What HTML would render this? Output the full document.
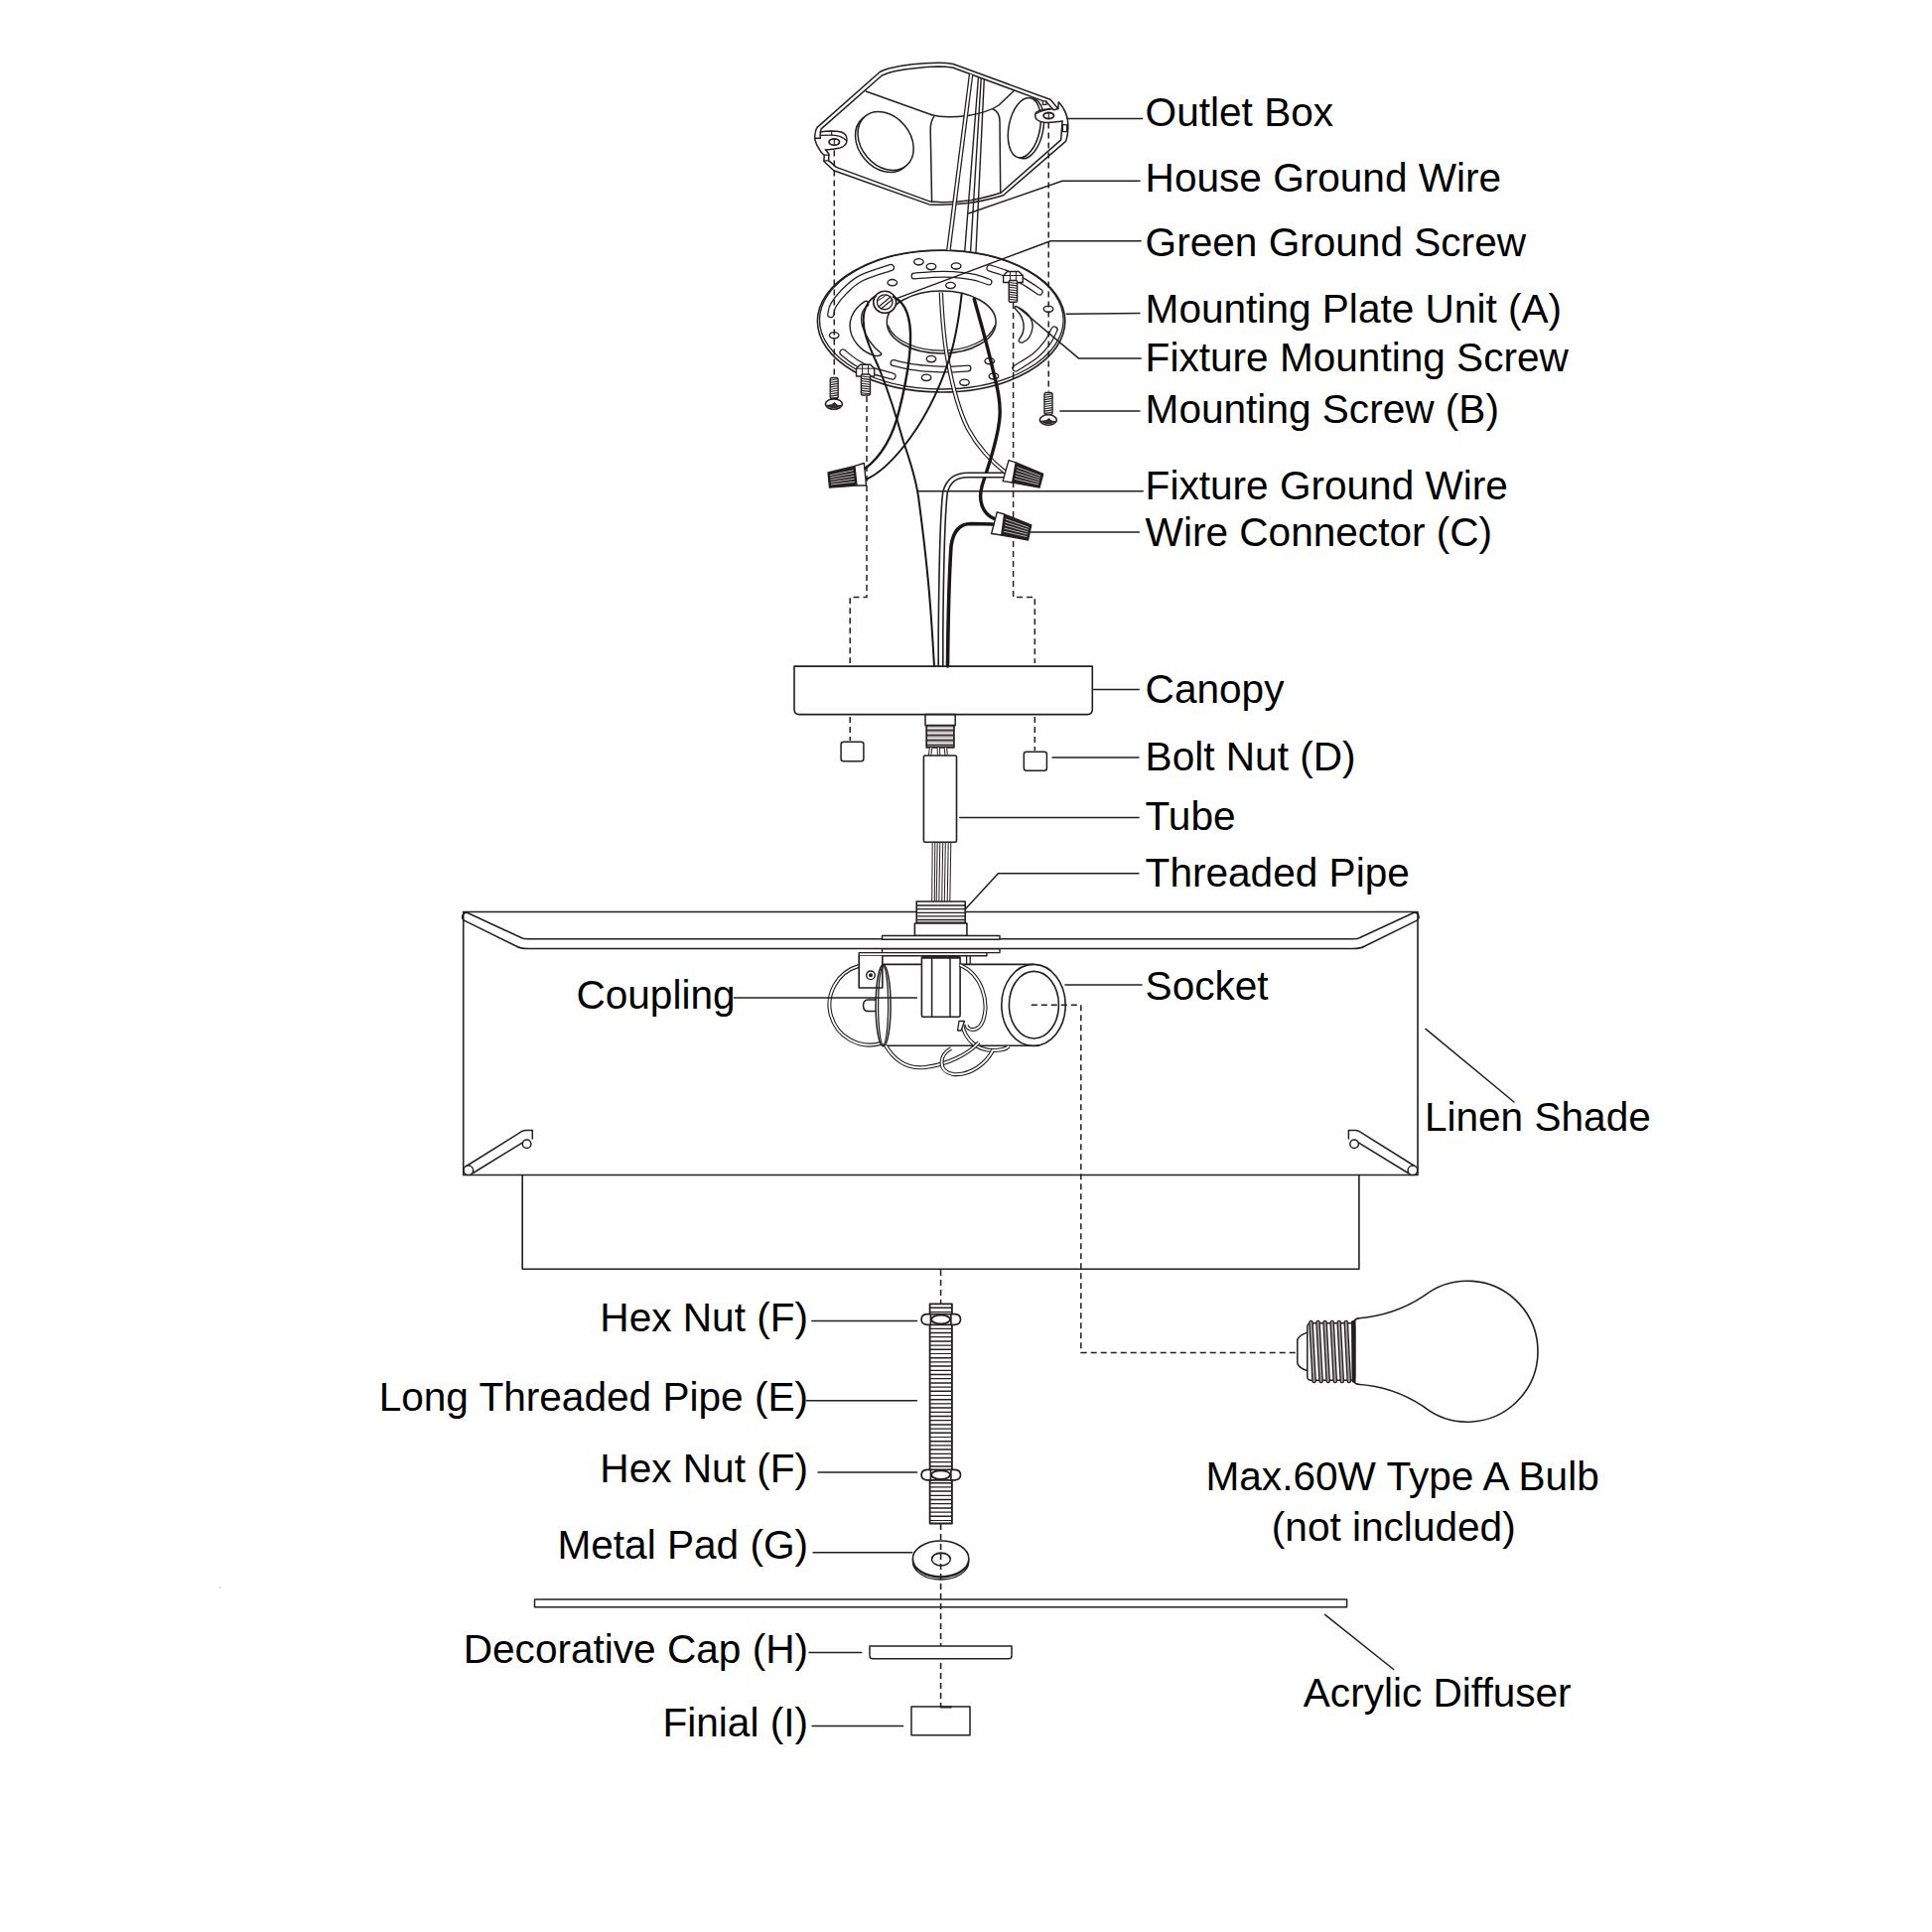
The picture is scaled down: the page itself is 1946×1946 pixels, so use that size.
<!DOCTYPE html>
<html><head><meta charset="utf-8"><style>
html,body{margin:0;padding:0;background:#fff;overflow:hidden;}
svg{display:block;}
text{font-family:"Liberation Sans",sans-serif;font-size:40.6px;fill:#000;}
</style></head><body>
<svg width="1946" height="1946" viewBox="0 0 1946 1946">
<g fill="none" stroke="#231f20" stroke-linecap="round" stroke-linejoin="round">
<g id="shade">
<path d="M466.7,1183.5 L466.7,918.5 L923.0,918.5" stroke-width="1.6" />
<path d="M972.0,918.5 L1428.0,918.5 L1428.0,1183.5 L466.7,1183.5" stroke-width="1.6" />
<path d="M531.9,945.8 L1362.8,945.8 Q1367.7,945.8 1370.2,944.3 L1424.2,919.3 A4.3,4.3 0 0 1 1426.7,927.4 L1374.7,953 Q1370.7,955.5 1362.8,955.5 L531.9,955.5 Q524,955.5 520,953 L468,927.4 A4.3,4.3 0 0 1 470.5,919.3 L524.5,944.3 Q527,945.8 531.9,945.8 Z" stroke-width="1.5" />
<path d="M526.2,1183.5 L526.2,1278.3 L1368.9,1278.3 L1368.9,1183.5" stroke-width="1.6" />
</g>
<g id="outletbox">
<path d="M820.6,139.2 C821,142 822,144 822.8,146.1 L827.4,153.8 L830.2,156.3 L829.9,162.5 L839.8,171.8 L935.8,205.9 C940,206.3 945,206.3 949.7,206.2 C960,206 968,205.5 977.7,204.2 C990,202.5 1000,200 1010.5,196.8 L1073.7,142.1 C1075.5,137 1076,131 1075.8,125 C1075.5,118 1073,112 1070.4,108 C1069,106 1067.5,104 1066.3,102.8 L1065.8,109.4 L1058,100.3 L960.2,64.5 C955,63.5 950,63.3 945,63.3 C930,63.5 910,65.5 895,69 C891,70 888,71.5 886.2,72.5 L823.1,128.4 C821.2,131 820.9,134 820.6,139.2 Z" fill="#fff" stroke-width="1.5"/>
<path d="M826.3,139 C826,136 826,133 827.1,129.9 L888.3,76 C892,74.5 896,73 900,72 C915,69 930,67.5 945,67 C950,67 955,67.3 959.5,68 L1050.5,101.6" stroke-width="1.5" />
<path d="M1053.8,102.4 L1061.3,110.7 L1065.8,109.6" stroke-width="1.5" />
<rect x="1050.4" y="101.8" width="3.6" height="3.6" rx="0" stroke-width="1.2" />
<line x1="820.6" y1="139.2" x2="826.3" y2="139.2" stroke-width="1.5" />
<line x1="872.2" y1="92.0" x2="938.6" y2="115.8" stroke-width="1.5" />
<path d="M938.6,115.8 C948,118.5 962,118 975,116.5 C990,114 1000,110 1006,106 L1021.5,91.2" stroke-width="1.5" />
<path d="M940.7,117.6 C938,121 937.2,126 937.2,131 L938.6,203.6" stroke-width="1.5" />
<path d="M1000,109.8 C1005,112 1007,117 1007,122.3 L1007.7,193.8" stroke-width="1.5" />
<ellipse cx="889.6" cy="144.0" rx="32.4" ry="24.7" stroke-width="1.5" transform="rotate(50.3 889.6 144.0)" />
<ellipse cx="892.1" cy="142.0" rx="32.4" ry="24.7" stroke-width="1.5" transform="rotate(50.3 892.1 142.0)" fill="#fff"/>
<ellipse cx="1035.0" cy="129.6" rx="15.7" ry="30.6" stroke-width="1.5" transform="rotate(11.2 1035.0 129.6)" />
<ellipse cx="1031.8" cy="128.7" rx="15.7" ry="30.6" stroke-width="1.5" transform="rotate(11.2 1031.8 128.7)" fill="#fff"/>
<path d="M1070,121.9 L1068.7,140.9 L1008.4,194 C1000,197 990,199.5 977.7,201.7 C968,203 958,203.7 949.7,203.8 L937.2,203.1 L842.3,168.4 L834.6,161.6 L834.9,155 L831.5,150.7" stroke-width="1.5" />
<line x1="830.2" y1="156.2" x2="834.9" y2="156.2" stroke-width="1.2" />
<line x1="829.9" y1="161.8" x2="834.6" y2="161.8" stroke-width="1.2" />
<path d="M827.1,132.7 C830,132.3 833,132 836.7,131.9 C841,131.9 845,132.3 847.6,133 C851,134.5 853,137 852.9,139.8 C853,142 852.8,143.5 852.3,144.5 C851,147 849,148 846,148.9 C841,150 837,150.5 833.6,150.7 L831.5,150.7" stroke-width="1.5" fill="#fff"/>
<path d="M827.4,136.4 C830,136.2 833,136.1 836.7,136.1 C840,136.1 843,136.6 846,137.4 C849,138.5 851,139.8 852.3,141.4" stroke-width="1.4" />
<line x1="837.7" y1="132.0" x2="837.7" y2="136.0" stroke-width="1.2" />
<ellipse cx="840.3" cy="143.0" rx="5.2" ry="3.2" stroke-width="1.8" />
<line x1="840.3" y1="140.2" x2="840.3" y2="145.8" stroke-width="1.1" />
<path d="M1058,109.4 C1052,110 1046,111 1043.5,113.2 C1042,115 1042.5,119 1045,121 C1047,122.5 1050,123.3 1053.4,123.5 C1060,123.5 1065,122.5 1070,121.9" stroke-width="1.5" fill="#fff"/>
<path d="M1043.8,114.5 C1048,111.8 1054,110.2 1060,109.8" stroke-width="1.3" />
<ellipse cx="1056.3" cy="116.5" rx="5.2" ry="3.0" stroke-width="1.8" />
<line x1="1056.3" y1="113.8" x2="1056.3" y2="119.2" stroke-width="1.1" />
<rect x="1070.4" y="125.6" width="4.1" height="7.0" rx="0" stroke-width="1.2" />
</g>
<g id="plate">
<ellipse cx="948.1" cy="323.5" rx="124.7" ry="71.5" fill="#fff" stroke="none"/>
<ellipse cx="948.1" cy="323.5" rx="124.7" ry="71.5" stroke-width="1.6" />
<ellipse cx="948.3" cy="322.2" rx="122.8" ry="69.8" stroke-width="1.3" />
<ellipse cx="948.2" cy="324.5" rx="54.9" ry="31.5" stroke-width="1.5" />
<path d="M894.5,328 A54.9,31.5 0 0 0 1002,328" stroke-width="1.3" />
<path d="M870.9,303.6 C858,312 853,325 858,338 C863,349 872,356 880.7,358.1 C884,359 888,358 887.7,356 C880,350 872,340 868.5,328 C866,318 869,311 873.7,308.5 C876,306 874,302 870.9,303.6 Z" stroke-width="1.4" />
<path d="M1023.2,308.5 C1033,313 1041,320 1040,330 C1039,338 1035,343 1030.2,344.8 C1027,346 1025,343 1027,341 C1032,335 1033,325 1027,316 C1024,312 1020,310 1023.2,308.5 Z" stroke-width="1.4" />
<path d="M897.4,269.5 C892.4,271.3 875.0,276.3 867.1,280.3 C859.2,284.3 854.9,289.2 850.3,293.7 C845.7,298.2 841.8,303.4 839.5,307.2 C837.2,311.0 837.2,315.0 836.8,316.6" stroke-width="7.3" stroke-linecap="round"/>
<path d="M897.4,269.5 C892.4,271.3 875.0,276.3 867.1,280.3 C859.2,284.3 854.9,289.2 850.3,293.7 C845.7,298.2 841.8,303.4 839.5,307.2 C837.2,311.0 837.2,315.0 836.8,316.6" stroke="#fff" stroke-width="4.8" stroke-linecap="round"/>
<path d="M849.0,355.0 C851.2,356.7 857.2,362.0 862.0,365.0 C866.8,368.0 871.8,370.7 878.0,373.0 C884.2,375.3 895.5,378.0 899.0,379.0" stroke-width="7.3" stroke-linecap="round"/>
<path d="M849.0,355.0 C851.2,356.7 857.2,362.0 862.0,365.0 C866.8,368.0 871.8,370.7 878.0,373.0 C884.2,375.3 895.5,378.0 899.0,379.0" stroke="#fff" stroke-width="4.8" stroke-linecap="round"/>
<path d="M997.0,270.0 C999.5,270.8 1006.5,272.8 1012.0,275.0 C1017.5,277.2 1024.2,279.8 1030.0,283.0 C1035.8,286.2 1044.2,292.2 1047.0,294.0" stroke-width="7.3" stroke-linecap="round"/>
<path d="M997.0,270.0 C999.5,270.8 1006.5,272.8 1012.0,275.0 C1017.5,277.2 1024.2,279.8 1030.0,283.0 C1035.8,286.2 1044.2,292.2 1047.0,294.0" stroke="#fff" stroke-width="4.8" stroke-linecap="round"/>
<path d="M1062.0,332.0 C1060.8,334.2 1058.2,340.7 1055.0,345.0 C1051.8,349.3 1048.3,353.7 1043.0,358.0 C1037.7,362.3 1026.3,368.8 1023.0,371.0" stroke-width="7.3" stroke-linecap="round"/>
<path d="M1062.0,332.0 C1060.8,334.2 1058.2,340.7 1055.0,345.0 C1051.8,349.3 1048.3,353.7 1043.0,358.0 C1037.7,362.3 1026.3,368.8 1023.0,371.0" stroke="#fff" stroke-width="4.8" stroke-linecap="round"/>
<path d="M921.0,278.0 C924.2,277.8 933.5,276.8 940.0,276.5 C946.5,276.2 953.3,276.1 960.0,276.5 C966.7,276.9 974.0,277.8 980.0,279.0 C986.0,280.2 993.3,283.2 996.0,284.0" stroke-width="7.0" stroke-linecap="round"/>
<path d="M921.0,278.0 C924.2,277.8 933.5,276.8 940.0,276.5 C946.5,276.2 953.3,276.1 960.0,276.5 C966.7,276.9 974.0,277.8 980.0,279.0 C986.0,280.2 993.3,283.2 996.0,284.0" stroke="#fff" stroke-width="4.5" stroke-linecap="round"/>
<path d="M900.0,365.5 C903.0,366.2 911.7,368.5 918.0,369.5 C924.3,370.5 931.3,371.1 938.0,371.5 C944.7,371.9 951.8,372.1 958.0,372.0 C964.2,371.9 972.2,371.2 975.0,371.0" stroke-width="7.0" stroke-linecap="round"/>
<path d="M900.0,365.5 C903.0,366.2 911.7,368.5 918.0,369.5 C924.3,370.5 931.3,371.1 938.0,371.5 C944.7,371.9 951.8,372.1 958.0,372.0 C964.2,371.9 972.2,371.2 975.0,371.0" stroke="#fff" stroke-width="4.5" stroke-linecap="round"/>
<ellipse cx="925.4" cy="263.8" rx="4.8" ry="3.2" stroke-width="1.3" />
<path d="M921.0,264.8 A4.8,3.2 0 0 0 929.8,264.8" stroke-width="1.0" />
<ellipse cx="938.0" cy="268.6" rx="4.8" ry="3.2" stroke-width="1.3" />
<path d="M933.6,269.6 A4.8,3.2 0 0 0 942.4,269.6" stroke-width="1.0" />
<ellipse cx="963.1" cy="268.0" rx="4.8" ry="3.2" stroke-width="1.3" />
<path d="M958.7,269.0 A4.8,3.2 0 0 0 967.5,269.0" stroke-width="1.0" />
<ellipse cx="898.8" cy="284.7" rx="4.8" ry="3.2" stroke-width="1.3" />
<path d="M894.4,285.7 A4.8,3.2 0 0 0 903.2,285.7" stroke-width="1.0" />
<ellipse cx="957.5" cy="287.5" rx="4.8" ry="3.2" stroke-width="1.3" />
<path d="M953.1,288.5 A4.8,3.2 0 0 0 961.9,288.5" stroke-width="1.0" />
<ellipse cx="1056.0" cy="311.3" rx="4.8" ry="3.2" stroke-width="1.3" />
<path d="M1051.6,312.3 A4.8,3.2 0 0 0 1060.4,312.3" stroke-width="1.0" />
<ellipse cx="840.2" cy="337.8" rx="4.8" ry="3.2" stroke-width="1.3" />
<path d="M835.8,338.8 A4.8,3.2 0 0 0 844.6,338.8" stroke-width="1.0" />
<ellipse cx="938.0" cy="361.6" rx="4.8" ry="3.2" stroke-width="1.3" />
<path d="M933.6,362.6 A4.8,3.2 0 0 0 942.4,362.6" stroke-width="1.0" />
<ellipse cx="933.1" cy="380.4" rx="4.8" ry="3.2" stroke-width="1.3" />
<path d="M928.7,381.4 A4.8,3.2 0 0 0 937.5,381.4" stroke-width="1.0" />
<ellipse cx="971.5" cy="385.3" rx="4.8" ry="3.2" stroke-width="1.3" />
<path d="M967.1,386.3 A4.8,3.2 0 0 0 975.9,386.3" stroke-width="1.0" />
<ellipse cx="996.7" cy="363.7" rx="4.8" ry="3.2" stroke-width="1.3" />
<path d="M992.3,364.7 A4.8,3.2 0 0 0 1001.1,364.7" stroke-width="1.0" />
<ellipse cx="1000.9" cy="379.0" rx="4.8" ry="3.2" stroke-width="1.3" />
<path d="M996.5,380.0 A4.8,3.2 0 0 0 1005.3,380.0" stroke-width="1.0" />
</g>
<line x1="840.3" y1="151.5" x2="840.3" y2="379.5" stroke-width="1.5" stroke-dasharray="6 4" stroke-linecap="butt"/>
<line x1="1056.2" y1="123.5" x2="1056.2" y2="394.5" stroke-width="1.5" stroke-dasharray="6 4" stroke-linecap="butt"/>
<path d="M862.5,371.2 L866.5,367.2 L876.7,367.2 L880.7,371.2 L880.7,379 L862.5,379 Z" stroke-width="1.4" fill="#fff"/>
<line x1="868.6" y1="367.2" x2="868.6" y2="379.0" stroke-width="1.0" />
<line x1="874.6" y1="367.2" x2="874.6" y2="379.0" stroke-width="1.0" />
<line x1="862.5" y1="371.2" x2="880.7" y2="371.2" stroke-width="1.0" />
<rect x="867.4" y="377.0" width="9.1" height="21.0" rx="1.5" stroke-width="1.4" fill="#fff"/>
<line x1="867.9" y1="379.0" x2="876.0" y2="380.0" stroke-width="1.1" />
<line x1="867.9" y1="381.4" x2="876.0" y2="382.4" stroke-width="1.1" />
<line x1="867.9" y1="383.8" x2="876.0" y2="384.8" stroke-width="1.1" />
<line x1="867.9" y1="386.2" x2="876.0" y2="387.2" stroke-width="1.1" />
<line x1="867.9" y1="388.6" x2="876.0" y2="389.6" stroke-width="1.1" />
<line x1="867.9" y1="391.0" x2="876.0" y2="392.0" stroke-width="1.1" />
<line x1="867.9" y1="393.4" x2="876.0" y2="394.4" stroke-width="1.1" />
<line x1="867.9" y1="395.8" x2="876.0" y2="396.8" stroke-width="1.1" />
<path d="M1010.6,277.5 L1014.6,273.5 L1026.2,273.5 L1030.2,277.5 L1030.2,284.5 L1010.6,284.5 Z" stroke-width="1.4" fill="#fff"/>
<line x1="1017.4" y1="273.5" x2="1017.4" y2="284.5" stroke-width="1.0" />
<line x1="1023.4" y1="273.5" x2="1023.4" y2="284.5" stroke-width="1.0" />
<line x1="1010.6" y1="277.5" x2="1030.2" y2="277.5" stroke-width="1.0" />
<rect x="1016.2" y="282.5" width="8.4" height="21.8" rx="1.5" stroke-width="1.4" fill="#fff"/>
<line x1="1016.7" y1="284.5" x2="1024.1" y2="285.5" stroke-width="1.1" />
<line x1="1016.7" y1="286.9" x2="1024.1" y2="287.9" stroke-width="1.1" />
<line x1="1016.7" y1="289.3" x2="1024.1" y2="290.3" stroke-width="1.1" />
<line x1="1016.7" y1="291.7" x2="1024.1" y2="292.7" stroke-width="1.1" />
<line x1="1016.7" y1="294.1" x2="1024.1" y2="295.1" stroke-width="1.1" />
<line x1="1016.7" y1="296.5" x2="1024.1" y2="297.5" stroke-width="1.1" />
<line x1="1016.7" y1="298.9" x2="1024.1" y2="299.9" stroke-width="1.1" />
<line x1="1016.7" y1="301.3" x2="1024.1" y2="302.3" stroke-width="1.1" />
<rect x="836.2" y="380.5" width="8.0" height="21.0" rx="2" stroke-width="1.3" fill="#fff"/>
<line x1="836.7" y1="383.0" x2="843.7" y2="381.8" stroke-width="1.1" />
<line x1="836.7" y1="385.3" x2="843.7" y2="384.1" stroke-width="1.1" />
<line x1="836.7" y1="387.6" x2="843.7" y2="386.4" stroke-width="1.1" />
<line x1="836.7" y1="389.9" x2="843.7" y2="388.7" stroke-width="1.1" />
<line x1="836.7" y1="392.2" x2="843.7" y2="391.0" stroke-width="1.1" />
<line x1="836.7" y1="394.5" x2="843.7" y2="393.3" stroke-width="1.1" />
<line x1="836.7" y1="396.8" x2="843.7" y2="395.6" stroke-width="1.1" />
<line x1="836.7" y1="399.1" x2="843.7" y2="397.9" stroke-width="1.1" />
<line x1="836.7" y1="401.4" x2="843.7" y2="400.2" stroke-width="1.1" />
<ellipse cx="839.9" cy="407.1" rx="8.5" ry="5.2" stroke-width="1.6" fill="#fff"/>
<path d="M832.9,408.6 Q839.9,413.1 846.9,408.6 L842.9,408.1 L840.9,405.6 L837.9,407.6 Z" stroke-width="1.0" fill="#3a2e2e"/>
<rect x="1051.9" y="395.5" width="8.2" height="22.0" rx="2" stroke-width="1.3" fill="#fff"/>
<line x1="1052.4" y1="398.0" x2="1059.6" y2="396.8" stroke-width="1.1" />
<line x1="1052.4" y1="400.3" x2="1059.6" y2="399.1" stroke-width="1.1" />
<line x1="1052.4" y1="402.6" x2="1059.6" y2="401.4" stroke-width="1.1" />
<line x1="1052.4" y1="404.9" x2="1059.6" y2="403.7" stroke-width="1.1" />
<line x1="1052.4" y1="407.2" x2="1059.6" y2="406.0" stroke-width="1.1" />
<line x1="1052.4" y1="409.5" x2="1059.6" y2="408.3" stroke-width="1.1" />
<line x1="1052.4" y1="411.8" x2="1059.6" y2="410.6" stroke-width="1.1" />
<line x1="1052.4" y1="414.1" x2="1059.6" y2="412.9" stroke-width="1.1" />
<line x1="1052.4" y1="416.4" x2="1059.6" y2="415.2" stroke-width="1.1" />
<ellipse cx="1055.8" cy="423.0" rx="8.5" ry="5.2" stroke-width="1.6" fill="#fff"/>
<path d="M1048.8,424.5 Q1055.8,429 1062.8,424.5 L1058.8,424 L1056.8,421.5 L1053.8,423.5 Z" stroke-width="1.0" fill="#3a2e2e"/>
<path d="M873.0,399.0 L873.0,601.5 L856.2,601.5 L856.2,668.0" stroke-width="1.5" stroke-dasharray="6 4" stroke-linecap="butt"/>
<line x1="856.2" y1="722.0" x2="856.2" y2="746.0" stroke-width="1.5" stroke-dasharray="6 4" stroke-linecap="butt"/>
<path d="M1020.6,305.0 L1020.6,601.5 L1042.3,601.5 L1042.3,668.0" stroke-width="1.5" stroke-dasharray="6 4" stroke-linecap="butt"/>
<line x1="1042.3" y1="722.0" x2="1042.3" y2="756.0" stroke-width="1.5" stroke-dasharray="6 4" stroke-linecap="butt"/>
<g id="wires">
<path d="M978.1,75 L955.4,252" stroke-width="4.6" stroke-linecap="butt"/>
<path d="M978.1,75 L955.4,252" stroke="#fff" stroke-width="2.0" stroke-linecap="butt"/>
<line x1="985.4" y1="78.5" x2="971.8" y2="252.5" stroke-width="1.4" />
<line x1="988.2" y1="79.0" x2="977.6" y2="253.0" stroke-width="1.4" />
<line x1="991.3" y1="79.6" x2="983.0" y2="253.5" stroke-width="1.4" />
<ellipse cx="891.2" cy="304.3" rx="11.5" ry="11.0" stroke-width="1.6" fill="#fff"/>
<ellipse cx="891.2" cy="304.3" rx="7.8" ry="7.4" stroke-width="1.4" />
<line x1="885.0" y1="309.0" x2="897.0" y2="299.0" stroke-width="1.2" />
<line x1="887.5" y1="311.0" x2="899.0" y2="301.5" stroke-width="1.2" />
<line x1="884.0" y1="303.0" x2="893.0" y2="297.0" stroke-width="1.0" />
<path d="M882,298 C870,305 867,320 872,338 C876,352 882,362 887,375 C895,395 903,420 910,445 C917,465 922,480 925,500 C929,530 934,570 937,610 C939,635 940,655 941,671" stroke="#1a1516" stroke-width="2.0"/>
<path d="M900,299 C913,305 918,320 917,345 C916,370 911,392 906,412 C900,438 890,458 871,472.3" stroke="#1a1516" stroke-width="2.4"/>
<path d="M947.8,294.5 C949,320 951,345 955,365 C960,392 965,412 975,432 C985,450 1000,466 1013,476" stroke-width="4.4" stroke-linecap="butt"/>
<path d="M947.8,294.5 C949,320 951,345 955,365 C960,392 965,412 975,432 C985,450 1000,466 1013,476" stroke="#fff" stroke-width="2.0" stroke-linecap="butt"/>
<path d="M968.7,295.9 C966,320 962,345 955,365 C945,395 930,425 910,450 C898,465 885,477 873.2,482.5" stroke="#1a1516" stroke-width="2.0"/>
<path d="M981.3,301.5 C988,325 995,350 1000,372 C1005,392 1008,405 1007,420 C1005,445 995,470 989,490 C985,505 990,518 1001.4,522.3" stroke="#1a1516" stroke-width="3.4"/>
<path d="M861.0,469.4 L834.0,476.0 L835.5,491.2 L863.0,489.0 Z" stroke-width="1.3" fill="#231f20"/>
<line x1="859.2" y1="473.8" x2="836.5" y2="478.6" stroke-width="0.7" stroke="#fff"/>
<line x1="859.5" y1="476.7" x2="836.7" y2="480.9" stroke-width="0.7" stroke="#fff"/>
<line x1="859.8" y1="479.6" x2="836.9" y2="483.2" stroke-width="0.7" stroke="#fff"/>
<line x1="860.1" y1="482.4" x2="837.2" y2="485.6" stroke-width="0.7" stroke="#fff"/>
<line x1="860.4" y1="485.3" x2="837.4" y2="487.9" stroke-width="0.7" stroke="#fff"/>
<path d="M860.9,469.4 L870.3,466.5 L872.5,489.0 L863.0,489.0 Z" stroke-width="1.4" fill="#fff"/>
<path d="M1023.2,465.8 L1050.7,477.4 L1047.1,491.2 L1019.6,486.0 Z" stroke-width="1.3" fill="#231f20"/>
<line x1="1024.7" y1="470.7" x2="1047.8" y2="479.3" stroke-width="0.7" stroke="#fff"/>
<line x1="1024.1" y1="473.6" x2="1047.2" y2="481.5" stroke-width="0.7" stroke="#fff"/>
<line x1="1023.6" y1="476.6" x2="1046.7" y2="483.6" stroke-width="0.7" stroke="#fff"/>
<line x1="1023.1" y1="479.5" x2="1046.2" y2="485.8" stroke-width="0.7" stroke="#fff"/>
<line x1="1022.5" y1="482.5" x2="1045.6" y2="487.9" stroke-width="0.7" stroke="#fff"/>
<path d="M1016.0,463.6 L1023.2,465.8 L1019.6,486.0 L1010.1,484.6 Z" stroke-width="1.4" fill="#fff"/>
<path d="M1011.6,518.0 L1038.8,528.8 L1035.5,544.0 L1008.7,539.0 Z" stroke-width="1.3" fill="#231f20"/>
<line x1="1013.2" y1="523.0" x2="1036.0" y2="531.1" stroke-width="0.7" stroke="#fff"/>
<line x1="1012.7" y1="526.1" x2="1035.5" y2="533.4" stroke-width="0.7" stroke="#fff"/>
<line x1="1012.3" y1="529.1" x2="1035.0" y2="535.8" stroke-width="0.7" stroke="#fff"/>
<line x1="1011.9" y1="532.2" x2="1034.5" y2="538.1" stroke-width="0.7" stroke="#fff"/>
<line x1="1011.4" y1="535.3" x2="1034.0" y2="540.5" stroke-width="0.7" stroke="#fff"/>
<path d="M1004.3,515.8 L1011.6,518.0 L1008.7,539.0 L998.6,537.5 Z" stroke-width="1.4" fill="#fff"/>
<path d="M1011,478.5 L975,478.5 C962,478.5 955,484 952,496 C949,520 948,580 947.5,640 L947.5,671" stroke-width="6.2" stroke-linecap="butt"/>
<path d="M1011,478.5 L975,478.5 C962,478.5 955,484 952,496 C949,520 948,580 947.5,640 L947.5,671" stroke="#fff" stroke-width="3.0" stroke-linecap="butt"/>
<path d="M999.5,528 L978,527.5 C966,527.5 960,535 958,550 C956,580 955,620 954.5,671" stroke="#1a1516" stroke-width="3.6"/>
<path d="M469.0,1175 L525.5,1139.6 Q527.5,1138.4 530.0,1138.4 L536.3,1138.4 L536.3,1147" stroke-width="1.5" />
<line x1="476.5" y1="1181.5" x2="526.8" y2="1150.6" stroke-width="1.5" />
<ellipse cx="530.6" cy="1152.2" rx="4.3" ry="4.3" stroke-width="1.5" fill="#fff"/>
<ellipse cx="471.8" cy="1178.8" rx="4.8" ry="4.8" stroke-width="1.5" fill="#fff"/>
<path d="M1425.7,1175 L1369.2,1139.6 Q1367.2,1138.4 1364.7,1138.4 L1358.4,1138.4 L1358.4,1147" stroke-width="1.5" />
<line x1="1418.2" y1="1181.5" x2="1367.9" y2="1150.6" stroke-width="1.5" />
<ellipse cx="1364.1" cy="1152.2" rx="4.3" ry="4.3" stroke-width="1.5" fill="#fff"/>
<ellipse cx="1422.9" cy="1178.8" rx="4.8" ry="4.8" stroke-width="1.5" fill="#fff"/>
</g>
<path d="M800,671.1 L1100.3,671.1 L1100.3,714.6 Q1100.3,719.6 1095.3,719.6 L805,719.6 Q800,719.6 800,714.6 Z" stroke-width="1.6" />
<rect x="932.0" y="719.6" width="30.2" height="11.1" rx="0" stroke-width="1.5" />
<rect x="933.2" y="730.7" width="27.7" height="22.1" fill="#a39c9c" stroke="none"/>
<line x1="934.2" y1="733.2" x2="959.9" y2="733.2" stroke-width="1.1" stroke="#fff"/>
<line x1="934.2" y1="738.2" x2="959.9" y2="738.2" stroke-width="1.1" stroke="#fff"/>
<line x1="934.2" y1="743.2" x2="959.9" y2="743.2" stroke-width="1.1" stroke="#fff"/>
<line x1="934.2" y1="748.2" x2="959.9" y2="748.2" stroke-width="1.1" stroke="#fff"/>
<line x1="934.2" y1="735.7" x2="959.9" y2="735.7" stroke-width="1.0" />
<line x1="934.2" y1="740.7" x2="959.9" y2="740.7" stroke-width="1.0" />
<line x1="934.2" y1="745.7" x2="959.9" y2="745.7" stroke-width="1.0" />
<line x1="934.2" y1="750.7" x2="959.9" y2="750.7" stroke-width="1.0" />
<rect x="933.2" y="730.7" width="27.7" height="22.1" rx="0" stroke-width="1.7" />
<path d="M937.6,753 L936.6,761" stroke-width="3.4" stroke-linecap="butt"/>
<path d="M937.6,753 L936.6,761" stroke="#fff" stroke-width="1.4" stroke-linecap="butt"/>
<path d="M945.3,753 L945.6,761" stroke-width="3.4" stroke-linecap="butt"/>
<path d="M945.3,753 L945.6,761" stroke="#fff" stroke-width="1.4" stroke-linecap="butt"/>
<path d="M952.4,753 L953.2,761" stroke-width="3.4" stroke-linecap="butt"/>
<path d="M952.4,753 L953.2,761" stroke="#fff" stroke-width="1.4" stroke-linecap="butt"/>
<rect x="930.4" y="761.0" width="33.1" height="87.3" rx="1.5" stroke-width="1.6" />
<rect x="847.1" y="747.3" width="22.8" height="19.5" rx="2.5" stroke-width="1.5" />
<rect x="1031.3" y="757.2" width="23.1" height="19.1" rx="2.5" stroke-width="1.5" />
<g id="socket">
<path d="M940.5,849 L940.0,908" stroke-width="3.6" stroke-linecap="butt"/>
<path d="M940.5,849 L940.0,908" stroke="#fff" stroke-width="1.6" stroke-linecap="butt"/>
<path d="M945.5,849 L944.5,908" stroke-width="3.6" stroke-linecap="butt"/>
<path d="M945.5,849 L944.5,908" stroke="#fff" stroke-width="1.6" stroke-linecap="butt"/>
<path d="M951,849 L950,908" stroke-width="3.6" stroke-linecap="butt"/>
<path d="M951,849 L950,908" stroke="#fff" stroke-width="1.6" stroke-linecap="butt"/>
<path d="M956.5,849 L955.5,908" stroke-width="3.6" stroke-linecap="butt"/>
<path d="M956.5,849 L955.5,908" stroke="#fff" stroke-width="1.6" stroke-linecap="butt"/>
<rect x="923.2" y="908.0" width="49.0" height="21.4" rx="0" stroke-width="1.6" fill="#fff"/>
<line x1="923.8" y1="912.0" x2="971.6" y2="912.0" stroke-width="1.3" />
<line x1="923.8" y1="915.7" x2="971.6" y2="915.7" stroke-width="1.3" />
<line x1="923.8" y1="919.3" x2="971.6" y2="919.3" stroke-width="1.3" />
<line x1="923.8" y1="922.9" x2="971.6" y2="922.9" stroke-width="1.3" />
<line x1="923.8" y1="926.5" x2="971.6" y2="926.5" stroke-width="1.3" />
<rect x="921.4" y="930.0" width="52.5" height="12.5" rx="0" stroke-width="1.6" fill="#fff"/>
<rect x="888.5" y="942.5" width="118.5" height="3.7" rx="0" stroke-width="1.4" fill="#fff"/>
<rect x="888.5" y="955.8" width="118.5" height="3.8" rx="0" stroke-width="1.4" fill="#fff"/>
<rect x="865.2" y="959.6" width="128.7" height="3.2" rx="0" stroke-width="1.4" fill="#fff"/>
<rect x="973.6" y="962.8" width="3.6" height="8.6" rx="0" stroke-width="1.3" fill="#fff"/>
<path d="M865,973 A39.5,39.5 0 1 0 887,1051" stroke-width="4.0" stroke-linecap="butt"/>
<path d="M865,973 A39.5,39.5 0 1 0 887,1051" stroke="#fff" stroke-width="1.8" stroke-linecap="butt"/>
<rect x="889" y="971.4" width="152" height="81.9" fill="#fff" stroke="none"/>
<line x1="889.0" y1="971.4" x2="1041.0" y2="971.4" stroke-width="1.6" />
<line x1="889.0" y1="1053.3" x2="1041.0" y2="1053.3" stroke-width="1.6" />
<path d="M865.2,962.8 L865.2,995 L888.8,995 L888.8,962.8" stroke-width="1.6" fill="#fff"/>
<ellipse cx="877.0" cy="982.3" rx="4.3" ry="4.3" stroke-width="1.4" />
<ellipse cx="877.0" cy="982.3" rx="1.4" ry="1.4" stroke-width="1.2" fill="#231f20"/>
<path d="M882,1007 L874.5,1007 Q869.5,1007 869.5,1012.8 Q869.5,1018.6 874.5,1018.6 L882,1018.6" stroke-width="1.5" fill="#fff"/>
<ellipse cx="889.6" cy="1012.8" rx="7.5" ry="41.0" stroke-width="1.5" />
<ellipse cx="889.6" cy="1012.8" rx="5.0" ry="39.5" stroke-width="1.3" />
<rect x="928.4" y="964.0" width="38.7" height="60.3" rx="1.5" stroke-width="1.6" fill="#fff"/>
<line x1="938.6" y1="965.0" x2="938.6" y2="1023.5" stroke-width="1.5" />
<line x1="957.0" y1="965.0" x2="957.0" y2="1023.5" stroke-width="1.5" />
<line x1="929.0" y1="964.5" x2="966.5" y2="964.5" stroke-width="2.5" />
<ellipse cx="1041.0" cy="1012.4" rx="32.2" ry="41.0" stroke-width="1.6" fill="#fff"/>
<ellipse cx="1041.4" cy="1012.2" rx="25.0" ry="33.8" stroke-width="1.6" />
<path d="M967,972 C990,982 996,1010 990.5,1027 C988,1035 982,1038.5 977,1036.5 C974.5,1035.5 973.5,1033.5 973.6,1032" stroke-width="4.0" stroke-linecap="butt"/>
<path d="M967,972 C990,982 996,1010 990.5,1027 C988,1035 982,1038.5 977,1036.5 C974.5,1035.5 973.5,1033.5 973.6,1032" stroke="#fff" stroke-width="1.8" stroke-linecap="butt"/>
<path d="M969,1031 C972,1048 985,1058 1000,1058 C1008,1058 1014,1056 1016,1054" stroke-width="4.0" stroke-linecap="butt"/>
<path d="M969,1031 C972,1048 985,1058 1000,1058 C1008,1058 1014,1056 1016,1054" stroke="#fff" stroke-width="1.8" stroke-linecap="butt"/>
<path d="M892,1053 C902,1070 915,1077 932,1075 C955,1072 975,1062 986,1050" stroke-width="4.0" stroke-linecap="butt"/>
<path d="M892,1053 C902,1070 915,1077 932,1075 C955,1072 975,1062 986,1050" stroke="#fff" stroke-width="1.8" stroke-linecap="butt"/>
<path d="M958,1056 C946,1062 944,1079 960,1082 C978,1084 994,1070 1000,1058" stroke-width="4.0" stroke-linecap="butt"/>
<path d="M958,1056 C946,1062 944,1079 960,1082 C978,1084 994,1070 1000,1058" stroke="#fff" stroke-width="1.8" stroke-linecap="butt"/>
<path d="M966,1028.5 L971.5,1028.5 L968,1038 L964.5,1038 Z" stroke-width="1.3" fill="#fff"/>
<line x1="739.5" y1="1005.0" x2="923.4" y2="1005.0" stroke-width="1.5" />
</g>
<rect x="538.5" y="1611.0" width="818.1" height="7.8" rx="0" stroke-width="1.5" />
<rect x="918.0" y="1719.0" width="59.0" height="28.7" rx="0" stroke-width="1.5" />
<line x1="947.6" y1="1279.0" x2="947.6" y2="1313.0" stroke-width="1.5" stroke-dasharray="6 4" stroke-linecap="butt"/>
<rect x="936.6" y="1313.3" width="22.3" height="221.2" rx="0" stroke-width="1.8" />
<line x1="937.0" y1="1317.3" x2="958.5" y2="1317.3" stroke-width="1.5" />
<line x1="937.0" y1="1321.5" x2="958.5" y2="1321.5" stroke-width="1.2" />
<line x1="937.0" y1="1325.7" x2="958.5" y2="1325.7" stroke-width="1.5" />
<line x1="937.0" y1="1329.9" x2="958.5" y2="1329.9" stroke-width="1.2" />
<line x1="937.0" y1="1334.1" x2="958.5" y2="1334.1" stroke-width="1.5" />
<line x1="937.0" y1="1338.3" x2="958.5" y2="1338.3" stroke-width="1.2" />
<line x1="937.0" y1="1342.5" x2="958.5" y2="1342.5" stroke-width="1.5" />
<line x1="937.0" y1="1346.7" x2="958.5" y2="1346.7" stroke-width="1.2" />
<line x1="937.0" y1="1350.9" x2="958.5" y2="1350.9" stroke-width="1.5" />
<line x1="937.0" y1="1355.1" x2="958.5" y2="1355.1" stroke-width="1.2" />
<line x1="937.0" y1="1359.3" x2="958.5" y2="1359.3" stroke-width="1.5" />
<line x1="937.0" y1="1363.5" x2="958.5" y2="1363.5" stroke-width="1.2" />
<line x1="937.0" y1="1367.7" x2="958.5" y2="1367.7" stroke-width="1.5" />
<line x1="937.0" y1="1371.9" x2="958.5" y2="1371.9" stroke-width="1.2" />
<line x1="937.0" y1="1376.1" x2="958.5" y2="1376.1" stroke-width="1.5" />
<line x1="937.0" y1="1380.3" x2="958.5" y2="1380.3" stroke-width="1.2" />
<line x1="937.0" y1="1384.5" x2="958.5" y2="1384.5" stroke-width="1.5" />
<line x1="937.0" y1="1388.7" x2="958.5" y2="1388.7" stroke-width="1.2" />
<line x1="937.0" y1="1392.9" x2="958.5" y2="1392.9" stroke-width="1.5" />
<line x1="937.0" y1="1397.1" x2="958.5" y2="1397.1" stroke-width="1.2" />
<line x1="937.0" y1="1401.3" x2="958.5" y2="1401.3" stroke-width="1.5" />
<line x1="937.0" y1="1405.5" x2="958.5" y2="1405.5" stroke-width="1.2" />
<line x1="937.0" y1="1409.7" x2="958.5" y2="1409.7" stroke-width="1.5" />
<line x1="937.0" y1="1413.9" x2="958.5" y2="1413.9" stroke-width="1.2" />
<line x1="937.0" y1="1418.1" x2="958.5" y2="1418.1" stroke-width="1.5" />
<line x1="937.0" y1="1422.3" x2="958.5" y2="1422.3" stroke-width="1.2" />
<line x1="937.0" y1="1426.5" x2="958.5" y2="1426.5" stroke-width="1.5" />
<line x1="937.0" y1="1430.7" x2="958.5" y2="1430.7" stroke-width="1.2" />
<line x1="937.0" y1="1434.9" x2="958.5" y2="1434.9" stroke-width="1.5" />
<line x1="937.0" y1="1439.1" x2="958.5" y2="1439.1" stroke-width="1.2" />
<line x1="937.0" y1="1443.3" x2="958.5" y2="1443.3" stroke-width="1.5" />
<line x1="937.0" y1="1447.5" x2="958.5" y2="1447.5" stroke-width="1.2" />
<line x1="937.0" y1="1451.7" x2="958.5" y2="1451.7" stroke-width="1.5" />
<line x1="937.0" y1="1455.9" x2="958.5" y2="1455.9" stroke-width="1.2" />
<line x1="937.0" y1="1460.1" x2="958.5" y2="1460.1" stroke-width="1.5" />
<line x1="937.0" y1="1464.3" x2="958.5" y2="1464.3" stroke-width="1.2" />
<line x1="937.0" y1="1468.5" x2="958.5" y2="1468.5" stroke-width="1.5" />
<line x1="937.0" y1="1472.7" x2="958.5" y2="1472.7" stroke-width="1.2" />
<line x1="937.0" y1="1476.9" x2="958.5" y2="1476.9" stroke-width="1.5" />
<line x1="937.0" y1="1481.1" x2="958.5" y2="1481.1" stroke-width="1.2" />
<line x1="937.0" y1="1485.3" x2="958.5" y2="1485.3" stroke-width="1.5" />
<line x1="937.0" y1="1489.5" x2="958.5" y2="1489.5" stroke-width="1.2" />
<line x1="937.0" y1="1493.7" x2="958.5" y2="1493.7" stroke-width="1.5" />
<line x1="937.0" y1="1497.9" x2="958.5" y2="1497.9" stroke-width="1.2" />
<line x1="937.0" y1="1502.1" x2="958.5" y2="1502.1" stroke-width="1.5" />
<line x1="937.0" y1="1506.3" x2="958.5" y2="1506.3" stroke-width="1.2" />
<line x1="937.0" y1="1510.5" x2="958.5" y2="1510.5" stroke-width="1.5" />
<line x1="937.0" y1="1514.7" x2="958.5" y2="1514.7" stroke-width="1.2" />
<line x1="937.0" y1="1518.9" x2="958.5" y2="1518.9" stroke-width="1.5" />
<line x1="937.0" y1="1523.1" x2="958.5" y2="1523.1" stroke-width="1.2" />
<line x1="937.0" y1="1527.3" x2="958.5" y2="1527.3" stroke-width="1.5" />
<line x1="937.0" y1="1531.5" x2="958.5" y2="1531.5" stroke-width="1.2" />
<path d="M933.6,1323.7 L962,1323.7 Q967.5,1324.2 967.5,1329 Q967.5,1333.8 962,1334.3 L933.6,1334.3 Q928.1,1333.8 928.1,1329 Q928.1,1324.2 933.6,1323.7 Z" stroke-width="1.7" fill="#fff"/>
<line x1="937.4" y1="1323.7" x2="937.4" y2="1334.3" stroke-width="1.6" />
<line x1="957.9" y1="1323.7" x2="957.9" y2="1334.3" stroke-width="1.6" />
<ellipse cx="947.6" cy="1329.0" rx="9.4" ry="4.4" stroke-width="1.9" fill="#fff"/>
<path d="M933.6,1480.3 L962,1480.3 Q967.5,1480.8 967.5,1485.6 Q967.5,1490.3999999999999 962,1490.8999999999999 L933.6,1490.8999999999999 Q928.1,1490.3999999999999 928.1,1485.6 Q928.1,1480.8 933.6,1480.3 Z" stroke-width="1.7" fill="#fff"/>
<line x1="937.4" y1="1480.3" x2="937.4" y2="1490.9" stroke-width="1.6" />
<line x1="957.9" y1="1480.3" x2="957.9" y2="1490.9" stroke-width="1.6" />
<ellipse cx="947.6" cy="1485.6" rx="9.4" ry="4.4" stroke-width="1.9" fill="#fff"/>
<path d="M919.4,1571 A28.2,18 0 0 0 975.8,1571 L975.8,1573 A28.2,18 0 0 1 919.4,1573 Z" stroke-width="1.3" fill="#fff"/>
<ellipse cx="947.6" cy="1570.0" rx="28.2" ry="18.0" stroke-width="1.6" fill="#fff"/>
<ellipse cx="947.9" cy="1570.5" rx="9.4" ry="6.6" stroke-width="1.5" />
<path d="M939,1569.5 A9,5.6 0 0 1 956.8,1569.5" stroke-width="1.2" />
<line x1="947.6" y1="1535.0" x2="947.6" y2="1719.0" stroke-width="1.6" stroke-dasharray="6 4" stroke-linecap="butt"/>
<path d="M876,1658 L1019,1658 L1019,1667.7 Q1019,1670.7 1016,1670.7 L879,1670.7 Q876,1670.7 876,1667.7 Z" stroke-width="1.5" fill="#fff"/>
<line x1="947.6" y1="1719.5" x2="958.0" y2="1719.5" stroke-width="2.0" />
<g id="bulb">
<path d="M1367,1328 C1395,1326 1415,1318 1433.7,1305.7 A71,71 0 1 1 1433.7,1416.7 C1415,1404 1395,1396 1367,1394.2" stroke-width="1.6" />
<line x1="1364.8" y1="1330.0" x2="1364.8" y2="1392.0" stroke-width="1.6" />
<rect x="1316.8" y="1332.8" width="47.8" height="57.5" rx="3.5" stroke-width="1.5" fill="#fff"/>
<path d="M1320.5,1332 L1323.6,1391" stroke-width="4.6" stroke-linecap="round"/>
<path d="M1320.5,1332 L1323.6,1391" stroke="#a59d9d" stroke-width="2.0" stroke-linecap="round"/>
<path d="M1327.5,1332 L1330.6,1391" stroke-width="4.6" stroke-linecap="round"/>
<path d="M1327.5,1332 L1330.6,1391" stroke="#a59d9d" stroke-width="2.0" stroke-linecap="round"/>
<path d="M1334.6,1332 L1337.7,1391" stroke-width="4.6" stroke-linecap="round"/>
<path d="M1334.6,1332 L1337.7,1391" stroke="#a59d9d" stroke-width="2.0" stroke-linecap="round"/>
<path d="M1341.7,1332 L1344.8,1391" stroke-width="4.6" stroke-linecap="round"/>
<path d="M1341.7,1332 L1344.8,1391" stroke="#a59d9d" stroke-width="2.0" stroke-linecap="round"/>
<path d="M1348.7,1332 L1351.8,1391" stroke-width="4.6" stroke-linecap="round"/>
<path d="M1348.7,1332 L1351.8,1391" stroke="#a59d9d" stroke-width="2.0" stroke-linecap="round"/>
<path d="M1355.8,1332 L1358.8,1391" stroke-width="4.6" stroke-linecap="round"/>
<path d="M1355.8,1332 L1358.8,1391" stroke="#a59d9d" stroke-width="2.0" stroke-linecap="round"/>
<line x1="1362.6" y1="1331.5" x2="1363.2" y2="1391.0" stroke-width="3.2" />
<path d="M1363.5,1331 Q1365,1328.5 1368,1328" stroke-width="1.5" />
<path d="M1363.5,1391.5 Q1365,1394 1368,1394.2" stroke-width="1.5" />
<path d="M1316.4,1342.4 Q1309,1344.5 1306.8,1349.4 L1306.8,1373.4 Q1309,1378.5 1316.4,1380.5" stroke-width="1.5" />
<path d="M1088.8,1012.3 L1088.8,1362.4 L1306.4,1362.4" stroke-width="1.5" stroke-dasharray="6 4" stroke-linecap="butt"/>
<line x1="1038.8" y1="1012.3" x2="1088.8" y2="1012.3" stroke-width="1.5" stroke-dasharray="6 4" stroke-linecap="butt"/>
</g>
<line x1="1075.0" y1="119.5" x2="1150.5" y2="119.5" stroke-width="1.5" />
<path d="M975.6,215.0 L1070.0,182.2 L1148.0,182.2" stroke-width="1.5" />
<path d="M904.4,300.1 L1058.2,242.8 L1149.2,242.8" stroke-width="1.5" />
<line x1="1074.2" y1="316.2" x2="1148.0" y2="315.5" stroke-width="1.5" />
<path d="M1026.4,310.2 L1086.4,360.9 L1149.2,360.9" stroke-width="1.5" />
<line x1="1067.8" y1="414.0" x2="1148.0" y2="414.0" stroke-width="1.5" />
<line x1="924.6" y1="494.8" x2="1151.2" y2="494.8" stroke-width="1.5" />
<line x1="1037.7" y1="536.0" x2="1147.4" y2="536.0" stroke-width="1.5" />
<line x1="1101.7" y1="694.5" x2="1147.3" y2="694.5" stroke-width="1.5" />
<line x1="1060.0" y1="763.0" x2="1147.0" y2="763.0" stroke-width="1.5" />
<line x1="966.8" y1="823.5" x2="1147.0" y2="823.5" stroke-width="1.5" />
<path d="M973.0,915.0 L1005.4,879.8 L1147.0,879.8" stroke-width="1.5" />
<line x1="1073.0" y1="992.0" x2="1150.0" y2="992.0" stroke-width="1.5" />
<line x1="1436.0" y1="1036.4" x2="1525.0" y2="1110.0" stroke-width="1.5" />
<line x1="817.8" y1="1330.4" x2="923.5" y2="1330.4" stroke-width="1.5" />
<line x1="812.5" y1="1410.8" x2="923.4" y2="1410.8" stroke-width="1.5" />
<line x1="824.0" y1="1482.9" x2="923.6" y2="1482.9" stroke-width="1.5" />
<line x1="819.0" y1="1563.7" x2="918.7" y2="1563.7" stroke-width="1.5" />
<line x1="815.0" y1="1664.5" x2="867.7" y2="1664.5" stroke-width="1.5" />
<line x1="818.0" y1="1738.4" x2="909.6" y2="1738.4" stroke-width="1.5" />
<line x1="1334.6" y1="1626.3" x2="1403.7" y2="1681.5" stroke-width="1.5" />
<circle cx="221.6" cy="1599.3" r="0.9" fill="#c8c8c8" stroke="none"/>
</g>
<g id="labels">
<text x="1153.6" y="127.3">Outlet Box</text>
<text x="1153.6" y="192.9">House Ground Wire</text>
<text x="1153.6" y="257.9">Green Ground Screw</text>
<text x="1153.6" y="325.3">Mounting Plate Unit (A)</text>
<text x="1153.6" y="374.4">Fixture Mounting Screw</text>
<text x="1153.6" y="425.9">Mounting Screw (B)</text>
<text x="1153.6" y="502.5">Fixture Ground Wire</text>
<text x="1153.6" y="549.9">Wire Connector (C)</text>
<text x="1153.6" y="708">Canopy</text>
<text x="1153.6" y="775.7">Bolt Nut (D)</text>
<text x="1153.6" y="836.3">Tube</text>
<text x="1153.6" y="893.3">Threaded Pipe</text>
<text x="1153.6" y="1007">Socket</text>
<text x="580.4" y="1015.9">Coupling</text>
<text x="1434.9" y="1138.9">Linen Shade</text>
<text x="814" y="1341.1" text-anchor="end">Hex Nut (F)</text>
<text x="814" y="1421.1" text-anchor="end">Long Threaded Pipe (E)</text>
<text x="814" y="1493.3" text-anchor="end">Hex Nut (F)</text>
<text x="814" y="1570" text-anchor="end">Metal Pad (G)</text>
<text x="1214.5" y="1501">Max.60W Type A Bulb</text>
<text x="1280.8" y="1551.8">(not included)</text>
<text x="814" y="1675.4" text-anchor="end">Decorative Cap (H)</text>
<text x="814" y="1749" text-anchor="end">Finial (I)</text>
<text x="1312.8" y="1719">Acrylic Diffuser</text>
</g>

</svg>
</body></html>
